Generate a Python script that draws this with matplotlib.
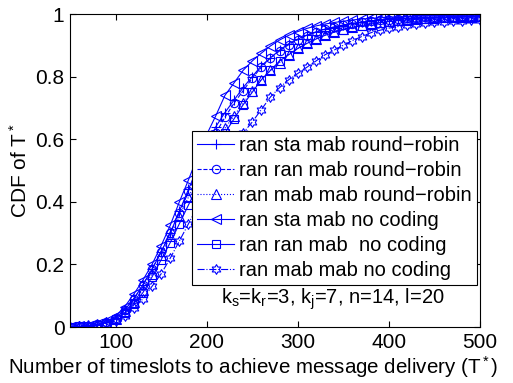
import matplotlib
matplotlib.use("Agg")
import matplotlib.pyplot as plt
import numpy as np
from matplotlib.path import Path


# Data (one value every 10 timeslots)

timeslots = list(range(50, 510, 10))

ran_sta_mab_rr = [0.0, 0.002, 0.004, 0.008, 0.015, 0.03, 0.055, 0.09, 0.135, 0.185, 0.24,
                  0.30, 0.37, 0.44, 0.51, 0.575, 0.64, 0.685, 0.725, 0.765, 0.80, 0.835,
                  0.86, 0.885, 0.905, 0.92, 0.933, 0.943, 0.952, 0.959, 0.965, 0.97, 0.974,
                  0.978, 0.981, 0.983, 0.985, 0.987, 0.988, 0.989, 0.99, 0.991, 0.992,
                  0.993, 0.994, 0.995]
ran_ran_mab_rr = [0.0, 0.003, 0.005, 0.009, 0.016, 0.03, 0.055, 0.09, 0.135, 0.185, 0.24,
                  0.30, 0.365, 0.435, 0.50, 0.56, 0.62, 0.67, 0.715, 0.755, 0.795, 0.83,
                  0.86, 0.882, 0.902, 0.918, 0.931, 0.942, 0.951, 0.958, 0.964, 0.969,
                  0.973, 0.977, 0.98, 0.982, 0.984, 0.986, 0.988, 0.989, 0.99, 0.991,
                  0.992, 0.993, 0.994, 0.995]
ran_mab_mab_rr = [0.0, 0.004, 0.006, 0.009, 0.015, 0.027, 0.05, 0.08, 0.12, 0.17, 0.23,
                  0.29, 0.355, 0.415, 0.475, 0.53, 0.585, 0.635, 0.675, 0.715, 0.755, 0.79,
                  0.82, 0.845, 0.87, 0.89, 0.907, 0.921, 0.933, 0.943, 0.951, 0.958, 0.964,
                  0.969, 0.973, 0.977, 0.98, 0.982, 0.984, 0.986, 0.988, 0.989, 0.99,
                  0.991, 0.992, 0.993]
ran_sta_mab_nc = [0.0, 0.002, 0.004, 0.009, 0.018, 0.035, 0.065, 0.105, 0.15, 0.20, 0.26,
                  0.325, 0.40, 0.47, 0.545, 0.615, 0.675, 0.74, 0.78, 0.82, 0.85, 0.875,
                  0.898, 0.917, 0.932, 0.944, 0.954, 0.962, 0.968, 0.973, 0.977, 0.981,
                  0.984, 0.986, 0.988, 0.99, 0.991, 0.992, 0.993, 0.994, 0.995, 0.995,
                  0.996, 0.996, 0.997, 0.997]
ran_ran_mab_nc = [0.0, 0.002, 0.004, 0.008, 0.014, 0.025, 0.045, 0.075, 0.11, 0.16, 0.215,
                  0.27, 0.33, 0.39, 0.45, 0.51, 0.565, 0.62, 0.665, 0.71, 0.75, 0.79,
                  0.82, 0.85, 0.87, 0.89, 0.906, 0.92, 0.932, 0.942, 0.95, 0.957, 0.963,
                  0.968, 0.972, 0.976, 0.979, 0.981, 0.983, 0.985, 0.987, 0.988, 0.989,
                  0.99, 0.991, 0.992]
ran_mab_mab_nc = [0.0, 0.002, 0.004, 0.007, 0.012, 0.02, 0.035, 0.06, 0.09, 0.13, 0.17,
                  0.22, 0.275, 0.33, 0.385, 0.44, 0.49, 0.54, 0.58, 0.62, 0.655, 0.695,
                  0.735, 0.765, 0.79, 0.81, 0.83, 0.85, 0.87, 0.885, 0.90, 0.915, 0.928,
                  0.94, 0.948, 0.955, 0.96, 0.965, 0.968, 0.971, 0.974, 0.976, 0.978,
                  0.979, 0.98, 0.981]

labels = [
    "ran sta mab round\u2212robin",
    "ran ran mab round\u2212robin",
    "ran mab mab round\u2212robin",
    "ran sta mab no coding",
    "ran ran mab  no coding",
    "ran mab mab no coding",
]


# Style

plt.rcParams["font.family"] = ["Liberation Sans", "DejaVu Sans"]
plt.rcParams["mathtext.fontset"] = "custom"
plt.rcParams["mathtext.rm"] = "Liberation Sans"
plt.rcParams["mathtext.it"] = "Liberation Sans"
plt.rcParams["font.size"] = 15

# hexagram marker (MATLAB 'h')
angles = np.pi / 2 + np.arange(12) * np.pi / 6
radii = np.where(np.arange(12) % 2 == 0, 1.0, 0.58)
verts = np.column_stack([radii * np.cos(angles), radii * np.sin(angles)])
verts = np.vstack([verts, verts[:1]])
hexagram = Path(verts, [Path.MOVETO] + [Path.LINETO] * 11 + [Path.CLOSEPOLY])

series = [
    (ran_sta_mab_rr, "+", "-", 7),
    (ran_ran_mab_rr, "o", "--", 6),
    (ran_mab_mab_rr, "^", ":", 6.5),
    (ran_sta_mab_nc, "<", "-", 6.5),
    (ran_ran_mab_nc, "s", "-", 5.5),
    (ran_mab_mab_nc, hexagram, "-.", 7),
]


# Figure

fig = plt.figure(figsize=(5.13, 3.83), dpi=100)
ax = fig.add_axes([0.1365, 0.146, 0.7992, 0.8174])

for (values, marker, style, size), label in zip(series, labels):
    ax.plot(timeslots, values, linestyle=style, marker=marker, color="blue",
            markerfacecolor="none", markersize=size, linewidth=0.8,
            markeredgewidth=0.8, label=label)

ax.set_xlim(50, 500)
ax.set_ylim(0, 1)
ax.set_xticks([100, 200, 300, 400, 500])
ax.set_yticks([0, 0.2, 0.4, 0.6, 0.8, 1])
ax.set_yticklabels(["0", "0.2", "0.4", "0.6", "0.8", "1"])
ax.tick_params(direction="in", top=True, right=True, length=4, labelsize=15, pad=4)
for spine in ax.spines.values():
    spine.set_linewidth(0.8)

ax.set_xlabel("Number of timeslots to achieve message delivery (T$^*$)", fontsize=14.8)
ax.xaxis.set_label_coords(0.447, -0.085)
ax.set_ylabel("CDF of T$^*$", fontsize=15, labelpad=3)

leg = ax.legend(loc="upper right", bbox_to_anchor=(0.993, 0.626), fontsize=14.5,
                handlelength=1.85, handletextpad=0.25, labelspacing=0.3,
                borderpad=0.25, borderaxespad=0, fancybox=False, framealpha=1)
leg.get_frame().set_edgecolor("black")
leg.get_frame().set_linewidth(0.8)

ax.text(0.64, 0.09, "k$_\\mathrm{s}$=k$_\\mathrm{r}$=3, k$_\\mathrm{j}$=7, n=14, l=20",
        transform=ax.transAxes, ha="center", va="center", fontsize=14.5)

plt.savefig("out.png", dpi=100)
